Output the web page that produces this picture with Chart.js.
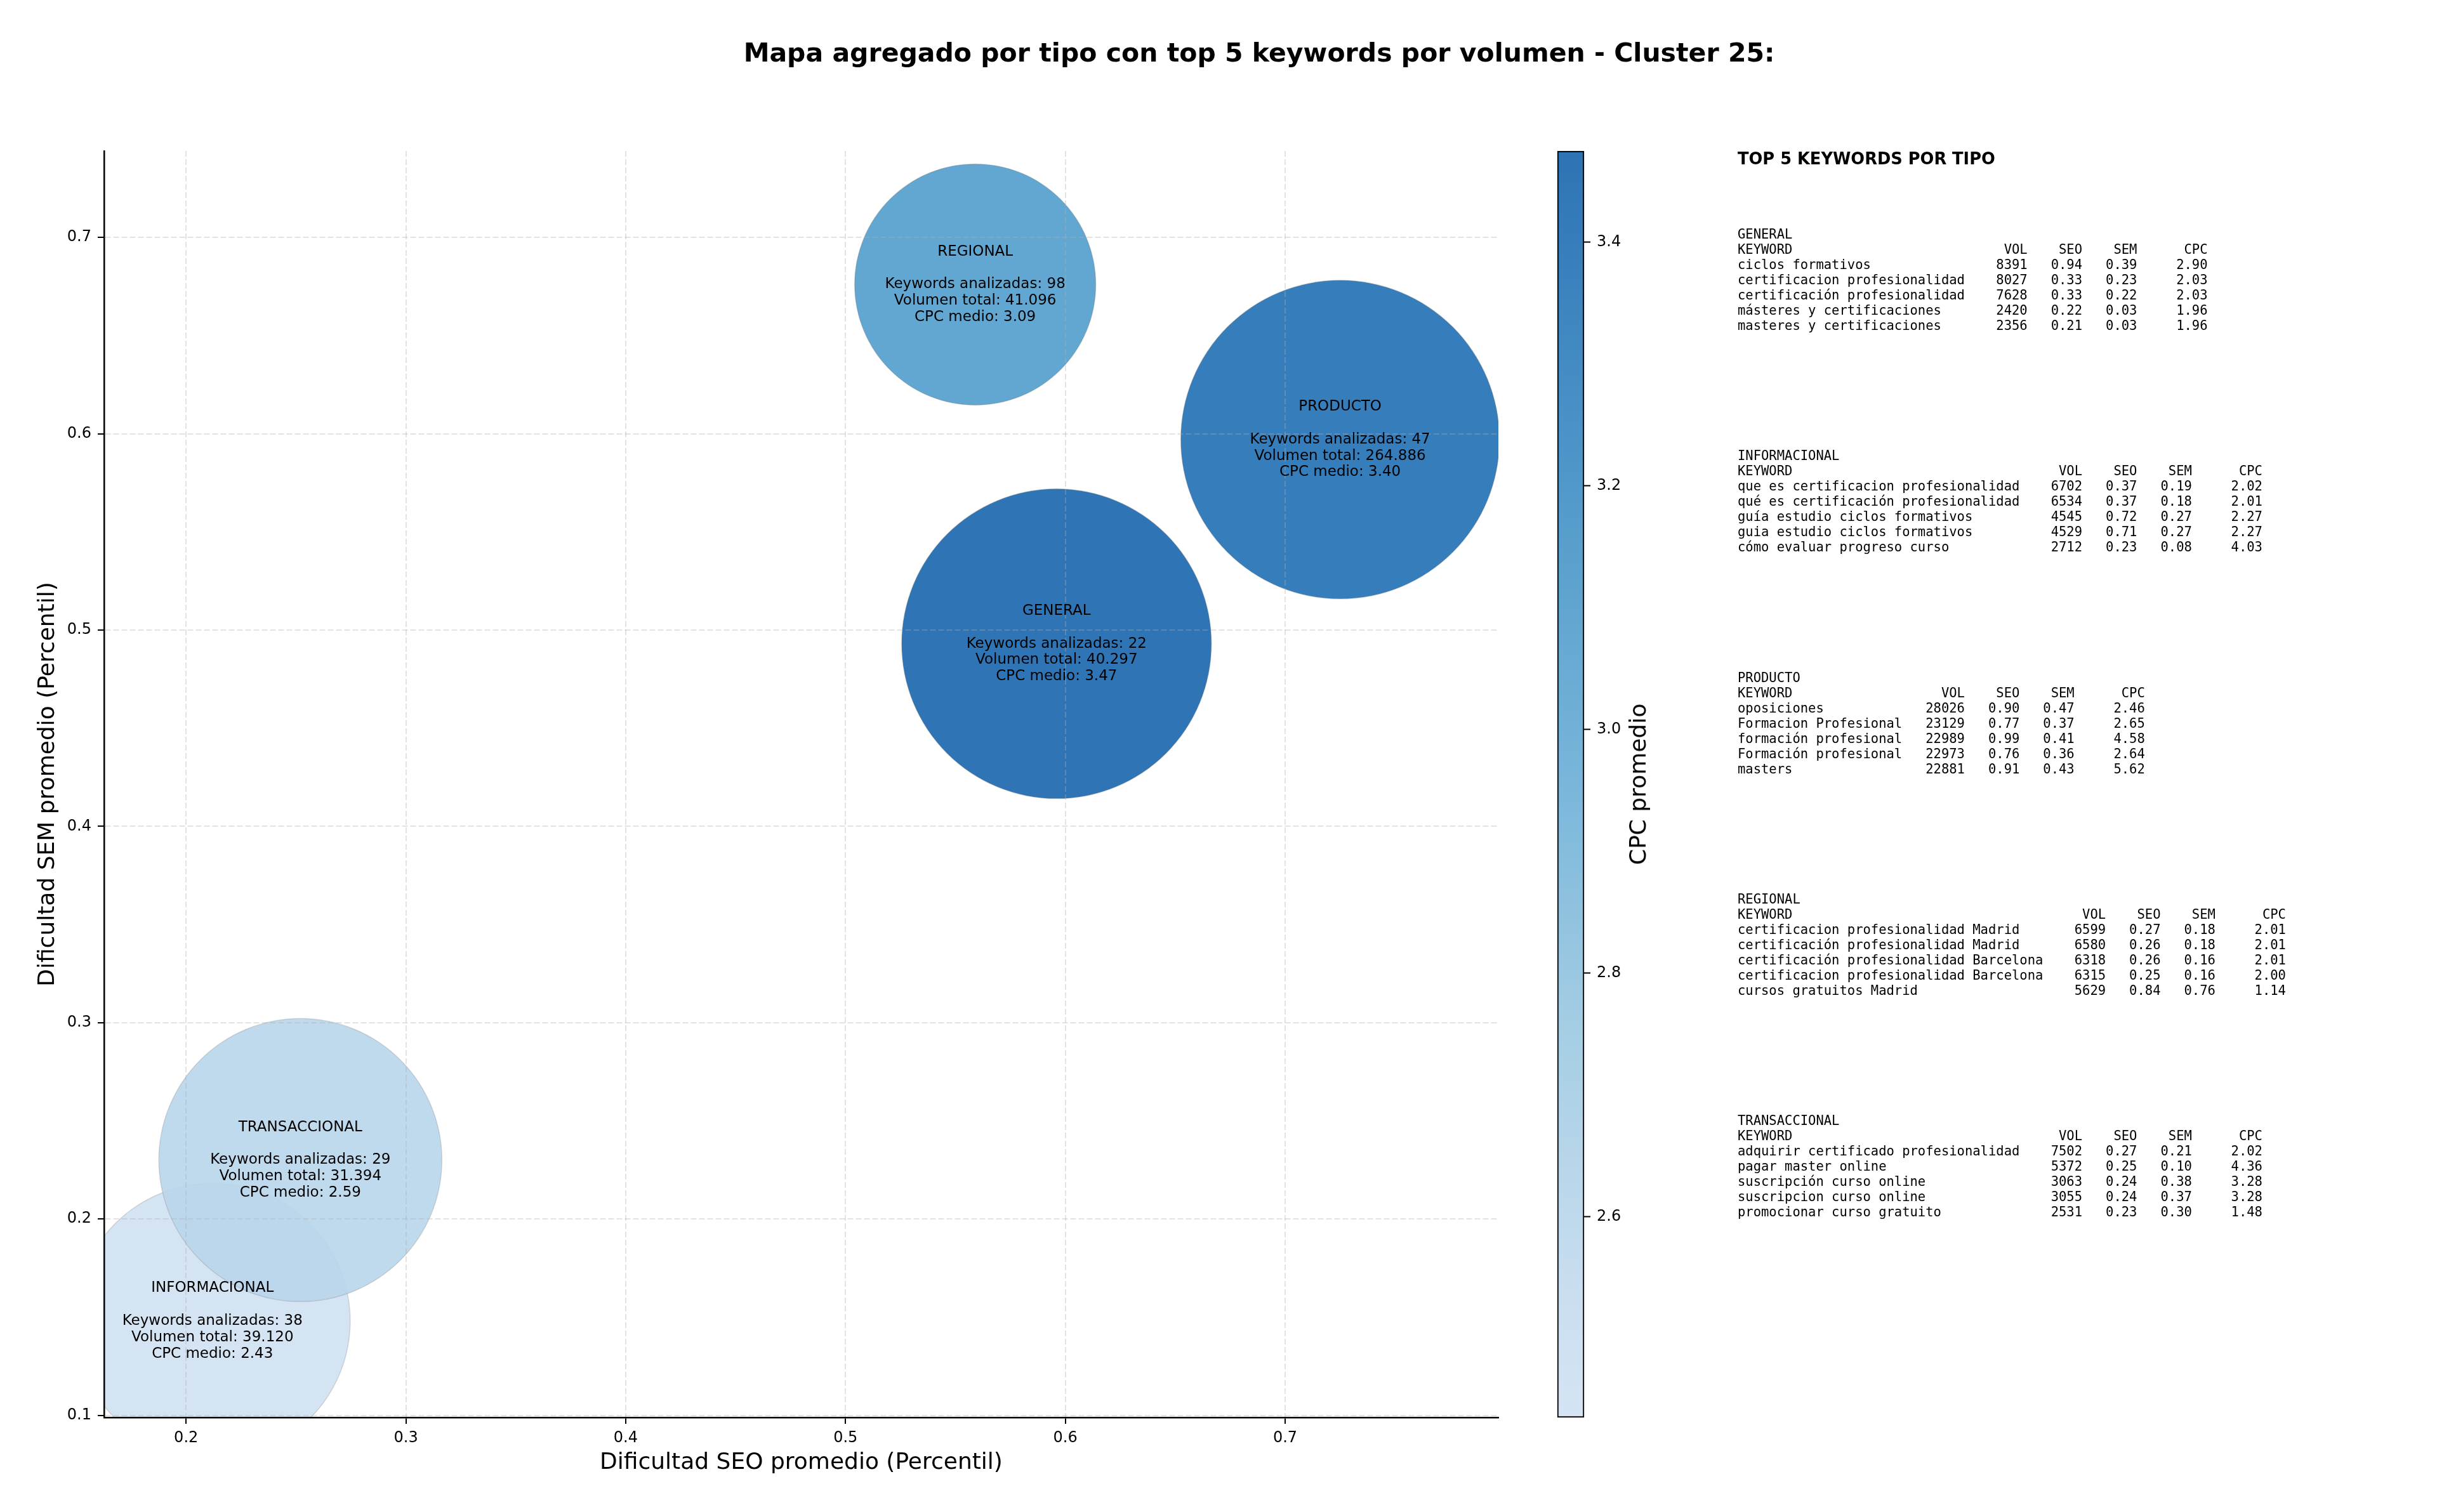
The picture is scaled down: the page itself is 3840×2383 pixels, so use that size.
<!DOCTYPE html>
<html><head><meta charset="utf-8">
<script src="https://cdn.jsdelivr.net/npm/chart.js@4.4.1/dist/chart.umd.min.js"></script>
<style>
html,body{margin:0;padding:0;background:#fff;}
#wrap{position:relative;width:3840px;height:2383px;overflow:hidden;background:#fff;}
canvas{position:absolute;}
.t{position:absolute;white-space:pre;color:#000;margin:0;}
</style></head><body>
<div id="wrap">
<canvas id="main" width="3840" height="2383" style="left:0;top:0;width:3840px;height:2383px"></canvas>
<canvas id="cbar" width="400" height="2383" style="left:2400px;top:0;width:400px;height:2383px"></canvas>
<div id="title" class="t" style="left:1984px;top:83px;transform:translate(-50%,-50%);font:bold 41px 'DejaVu Sans';line-height:41px;">Mapa agregado por tipo con top 5 keywords por volumen - Cluster 25:</div>
<div id="cbarLabel" class="t" style="left:2581px;top:1236px;transform:translate(-50%,-50%) rotate(-90deg);font:36px 'DejaVu Sans';line-height:36px;">CPC promedio</div>
<div id="panelHead" class="t" style="left:2738px;top:250px;transform:translateY(-50%);font:bold 25.7px 'DejaVu Sans';line-height:26px;">TOP 5 KEYWORDS POR TIPO</div>
<div id="panel"></div>
</div>
<script>
// ---- aggregated data per type ----
const types = ['GENERAL', 'INFORMACIONAL', 'PRODUCTO', 'REGIONAL', 'TRANSACCIONAL'];
const seoAvg = [0.596, 0.212, 0.725, 0.559, 0.252];
const semAvg = [0.493, 0.148, 0.597, 0.676, 0.230];
const kwCount = [22, 38, 47, 98, 29];
const volTotal = [40297, 39120, 264886, 41096, 31394];
const cpcAvg = [3.47, 2.43, 3.40, 3.09, 2.59];
const bubbleRadius = [244, 217, 251, 190, 223];

// ---- axis ticks / ranges ----
const xTicks = [0.2, 0.3, 0.4, 0.5, 0.6, 0.7];
const yTicks = [0.1, 0.2, 0.3, 0.4, 0.5, 0.6, 0.7];
const xRange = [0.1627, 0.797];
const yRange = [0.0989, 0.744];
const cbarTicks = [2.6, 2.8, 3.0, 3.2, 3.4];
const cbarRange = [2.435, 3.475];

// ---- top 5 keywords per type: [keyword, vol, seo, sem, cpc] ----
const generalRows = [
  ['ciclos formativos', 8391, 0.94, 0.39, 2.90],
  ['certificacion profesionalidad', 8027, 0.33, 0.23, 2.03],
  ['certificación profesionalidad', 7628, 0.33, 0.22, 2.03],
  ['másteres y certificaciones', 2420, 0.22, 0.03, 1.96],
  ['masteres y certificaciones', 2356, 0.21, 0.03, 1.96]
];
const informacionalRows = [
  ['que es certificacion profesionalidad', 6702, 0.37, 0.19, 2.02],
  ['qué es certificación profesionalidad', 6534, 0.37, 0.18, 2.01],
  ['guía estudio ciclos formativos', 4545, 0.72, 0.27, 2.27],
  ['guia estudio ciclos formativos', 4529, 0.71, 0.27, 2.27],
  ['cómo evaluar progreso curso', 2712, 0.23, 0.08, 4.03]
];
const productoRows = [
  ['oposiciones', 28026, 0.90, 0.47, 2.46],
  ['Formacion Profesional', 23129, 0.77, 0.37, 2.65],
  ['formación profesional', 22989, 0.99, 0.41, 4.58],
  ['Formación profesional', 22973, 0.76, 0.36, 2.64],
  ['masters', 22881, 0.91, 0.43, 5.62]
];
const regionalRows = [
  ['certificacion profesionalidad Madrid', 6599, 0.27, 0.18, 2.01],
  ['certificación profesionalidad Madrid', 6580, 0.26, 0.18, 2.01],
  ['certificación profesionalidad Barcelona', 6318, 0.26, 0.16, 2.01],
  ['certificacion profesionalidad Barcelona', 6315, 0.25, 0.16, 2.00],
  ['cursos gratuitos Madrid', 5629, 0.84, 0.76, 1.14]
];
const transaccionalRows = [
  ['adquirir certificado profesionalidad', 7502, 0.27, 0.21, 2.02],
  ['pagar master online', 5372, 0.25, 0.10, 4.36],
  ['suscripción curso online', 3063, 0.24, 0.38, 3.28],
  ['suscripcion curso online', 3055, 0.24, 0.37, 3.28],
  ['promocionar curso gratuito', 2531, 0.23, 0.30, 1.48]
];
const tableTitles = ['GENERAL', 'INFORMACIONAL', 'PRODUCTO', 'REGIONAL', 'TRANSACCIONAL'];
const tableRows = [generalRows, informacionalRows, productoRows, regionalRows, transaccionalRows];

// ---- colormap (Blues, truncated) ----
const BLUES = [[247,251,255],[222,235,247],[198,219,239],[158,202,225],[107,174,214],[66,146,198],[33,113,181],[8,81,156],[8,48,107]];
function blues(t) {
  t = Math.min(1, Math.max(0, t));
  const p = t * 8, i = Math.min(7, Math.floor(p)), f = p - i;
  const a = BLUES[i], b = BLUES[i + 1];
  return a.map((v, k) => v + (b[k] - v) * f);
}
function cmap(frac, alpha) {
  const c = blues(0.2 + 0.6 * Math.min(1, Math.max(0, frac)));
  return 'rgba(' + c.map(Math.round).join(',') + ',' + alpha + ')';
}
function cpcColor(v, alpha) { return cmap((v - cbarRange[0]) / (cbarRange[1] - cbarRange[0]), alpha); }
function fmtVol(v) { return String(v).replace(/\B(?=(\d{3})+(?!\d))/g, '.'); }

Chart.defaults.font.family = "'DejaVu Sans', sans-serif";
Chart.defaults.color = '#000';

const bubbleLabels = {
  id: 'bubbleLabels',
  afterDraw(chart) {
    const ctx = chart.ctx;
    const meta = chart.getDatasetMeta(0);
    ctx.save();
    ctx.fillStyle = '#000';
    ctx.font = "23px 'DejaVu Sans'";
    ctx.textAlign = 'center';
    ctx.textBaseline = 'middle';
    meta.data.forEach((el, i) => {
      const lines = [types[i], '', 'Keywords analizadas: ' + kwCount[i], 'Volumen total: ' + fmtVol(volTotal[i]), 'CPC medio: ' + cpcAvg[i].toFixed(2)];
      lines.forEach((ln, k) => { if (ln) ctx.fillText(ln, el.x, el.y + (k - 2) * 25.8); });
    });
    ctx.restore();
  }
};

const gridOpts = { color: 'rgba(176,176,176,0.35)', lineWidth: 2, drawTicks: true, tickLength: 10, tickColor: '#000', tickWidth: 2, tickBorderDash: [], z: 1 };
const borderOpts = { display: true, color: '#000', width: 2.5, dash: [9, 4], z: 2 };
const tickFont = { family: 'DejaVu Sans', size: 24 };
const axisTitleFont = { family: 'DejaVu Sans', size: 36 };

new Chart(document.getElementById('main'), {
  type: 'bubble',
  data: {
    datasets: [{
      data: types.map((t, i) => ({ x: seoAvg[i], y: semAvg[i], r: bubbleRadius[i] })),
      backgroundColor: cpcAvg.map(v => cpcColor(v, 0.9)),
      borderColor: 'rgba(110,110,110,0.25)',
      borderWidth: 1.5,
      clip: 0
    }]
  },
  options: {
    responsive: false, animation: false, devicePixelRatio: 1, events: [],
    layout: { autoPadding: false, padding: { top: 238, right: 1479, bottom: 0, left: 0 } },
    plugins: { legend: { display: false }, tooltip: { enabled: false } },
    scales: {
      x: {
        type: 'linear', min: xRange[0], max: xRange[1],
        afterBuildTicks: s => { s.ticks = xTicks.map(v => ({ value: v })); },
        afterFit: s => { s.height = 149; },
        ticks: { callback: v => v.toFixed(1), color: '#000', font: tickFont, padding: 8, maxRotation: 0, autoSkip: false, z: 2 },
        grid: gridOpts, border: borderOpts,
        title: { display: true, text: 'Dificultad SEO promedio (Percentil)', color: '#000', font: axisTitleFont, padding: { top: 0, bottom: 56 } }
      },
      y: {
        type: 'linear', min: yRange[0], max: yRange[1],
        afterBuildTicks: s => { s.ticks = yTicks.map(v => ({ value: v })); },
        afterFit: s => { s.width = 164; },
        ticks: { callback: v => v.toFixed(1), color: '#000', font: tickFont, padding: 10, autoSkip: false, z: 2 },
        grid: gridOpts, border: borderOpts,
        title: { display: true, text: 'Dificultad SEM promedio (Percentil)', color: '#000', font: axisTitleFont, padding: { top: 54, bottom: 0 } }
      }
    }
  },
  plugins: [bubbleLabels]
});

function cbarGradient(context) {
  const chart = context.chart;
  const y = chart.scales && chart.scales.y;
  if (!chart.chartArea || !y) return cmap(0.5, 0.9);
  const y0 = y.getPixelForValue(cbarRange[0]), y1 = y.getPixelForValue(cbarRange[1]);
  const g = chart.ctx.createLinearGradient(0, y0, 0, y1);
  for (let s = 0; s <= 20; s++) g.addColorStop(s / 20, cmap(s / 20, 0.9));
  return g;
}

new Chart(document.getElementById('cbar'), {
  type: 'bar',
  data: {
    labels: ['CPC promedio'],
    datasets: [{
      data: [[cbarRange[0], cbarRange[1]]],
      backgroundColor: cbarGradient,
      borderColor: '#000', borderWidth: 2, borderSkipped: false,
      categoryPercentage: 1, barPercentage: 1, clip: false
    }]
  },
  options: {
    responsive: false, animation: false, devicePixelRatio: 1, events: [],
    layout: { autoPadding: false, padding: { top: 238, left: 54, right: 0, bottom: 149 } },
    plugins: { legend: { display: false }, tooltip: { enabled: false } },
    scales: {
      x: { display: false },
      y: {
        position: 'right', min: cbarRange[0], max: cbarRange[1],
        afterBuildTicks: s => { s.ticks = cbarTicks.map(v => ({ value: v })); },
        afterFit: s => { s.width = 304; },
        ticks: { callback: v => v.toFixed(1), color: '#000', font: tickFont, padding: 10, autoSkip: false },
        grid: { drawOnChartArea: false, drawTicks: true, tickLength: 10, tickColor: '#000', tickWidth: 2 },
        border: { display: false }
      }
    }
  }
});

// ---- side panel tables ----
function fmtTable(name, rows) {
  const w = Math.max(...rows.map(r => r[0].length)) + 2;
  const head = 'KEYWORD'.padEnd(w) + 'VOL'.padStart(6) + 'SEO'.padStart(7) + 'SEM'.padStart(7) + 'CPC'.padStart(9);
  const body = rows.map(r => r[0].padEnd(w) + String(r[1]).padStart(6) + r[2].toFixed(2).padStart(7) + r[3].toFixed(2).padStart(7) + r[4].toFixed(2).padStart(9));
  return [name, head].concat(body).join('\n');
}
const panel = document.getElementById('panel');
tableTitles.forEach((name, i) => {
  const d = document.createElement('div');
  d.className = 't';
  d.style.left = '2738px';
  d.style.top = (357 + i * 349.3) + 'px';
  d.style.font = "20.5px 'DejaVu Sans Mono'";
  d.style.lineHeight = '24px';
  d.textContent = fmtTable(name, tableRows[i]);
  panel.appendChild(d);
});
</script>
</body></html>
